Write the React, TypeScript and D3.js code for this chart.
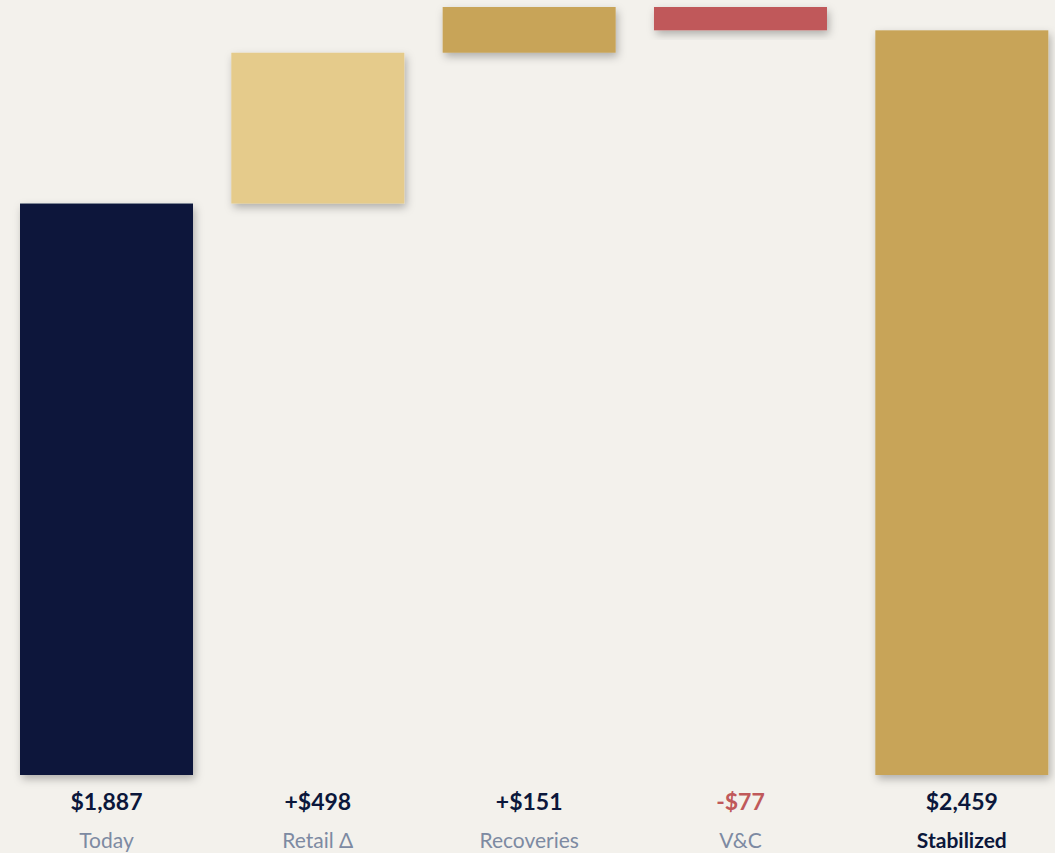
import React from "react";
import * as d3 from "d3";

const categories = ["Today", "Retail Δ", "Recoveries", "V&C", "Stabilized"];
const deltas = [1887, 498, 151, -77, 2459];
const kinds = ["total", "up", "up", "down", "total"];
const barColors = ["#0b173b", "#e5cb8b", "#c8a459", "#c0595a", "#c8a459"];

const W = 1055;
const H = 853;

function fmtValue(v: number, kind: string) {
  const s = "$" + d3.format(",")(Math.abs(v));
  if (kind === "up") return "+" + s;
  if (kind === "down") return "-" + s;
  return s;
}

export default function App() {
  let running = 0;
  const bars = categories.map((c, i) => {
    const k = kinds[i];
    let y0: number, y1: number;
    if (k === "total") {
      y0 = 0;
      y1 = deltas[i];
      running = deltas[i];
    } else {
      y0 = running;
      y1 = running + deltas[i];
      running = y1;
    }
    return { c, k, lo: Math.min(y0, y1), hi: Math.max(y0, y1), v: deltas[i], color: barColors[i], i };
  });
  const maxV = d3.max(bars, (b) => b.hi) as number;

  const step = 211.33;
  const bw = 173;
  const x = d3
    .scaleBand<string>()
    .domain(categories)
    .range([20, 20 + categories.length * step - (step - bw)])
    .paddingInner((step - bw) / step)
    .paddingOuter(0);
  const y = d3.scaleLinear().domain([0, maxV]).range([775, 7]);
  const totalGap = 10;
  const xPos = (b: { c: string; i: number }) =>
    (x(b.c) as number) + (b.i === categories.length - 1 ? totalGap : 0);

  const font = "Lato, 'Open Sans', sans-serif";

  return (
    <div style={{ position: "fixed", left: 0, top: 0, width: W, height: H }}>
      <svg width={W} height={H} style={{ display: "block" }}>
        <defs>
          <filter id="sh" x="-20%" y="-20%" width="140%" height="160%">
            <feDropShadow dx="2" dy="4" stdDeviation="4" floodColor="#000" floodOpacity="0.28" />
          </filter>
        </defs>
        <rect x={0} y={0} width={W} height={H} fill="#f3f1ec" />
        {bars.map((b) => (
          <rect
            key={b.c}
            x={xPos(b)}
            y={y(b.hi)}
            width={x.bandwidth()}
            height={y(b.lo) - y(b.hi)}
            fill={b.color}
            filter="url(#sh)"
          />
        ))}
        {bars.map((b) => (
          <g key={"l" + b.c} transform={`translate(${xPos(b) + x.bandwidth() / 2},0)`}>
            <text
              y={810}
              textAnchor="middle"
              fontFamily={font}
              fontWeight={700}
              fontSize={23}
              fill={b.k === "down" ? "#c0595a" : "#0b173b"}
            >
              {fmtValue(b.v, b.k)}
            </text>
            <text
              y={848}
              textAnchor="middle"
              fontFamily={font}
              fontWeight={b.i === categories.length - 1 ? 700 : 400}
              fontSize={21}
              fill={b.i === categories.length - 1 ? "#0b173b" : "#7d8aa2"}
            >
              {b.c}
            </text>
          </g>
        ))}
      </svg>
    </div>
  );
}
